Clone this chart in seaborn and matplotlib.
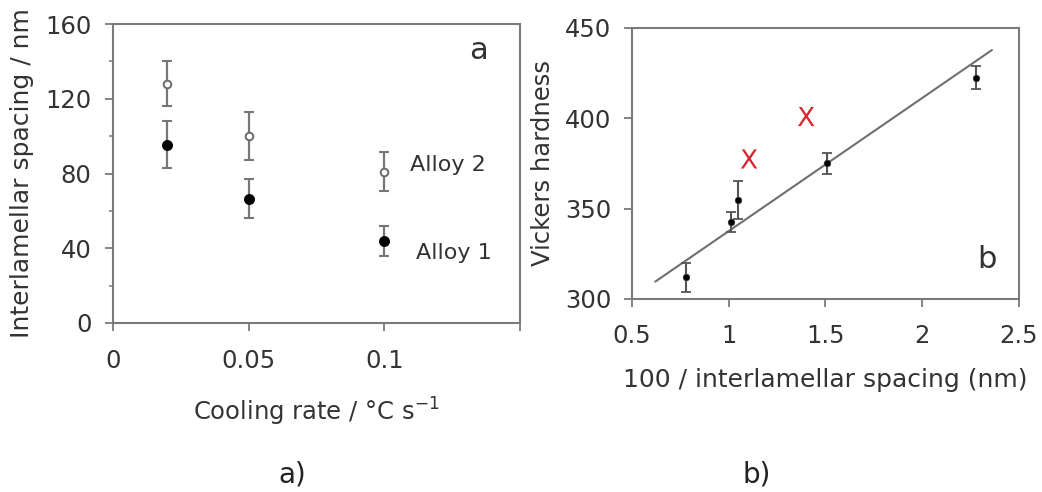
import numpy as np
import pandas as pd
import seaborn as sns
import matplotlib
matplotlib.use("Agg")
import matplotlib.pyplot as plt
from matplotlib.ticker import MultipleLocator, FixedLocator, FixedFormatter

# ---------------- data ----------------
# panel a
cooling_rate = [0.02, 0.05, 0.1]
alloy1_spacing = [95.5, 66.5, 44.0]
alloy1_err = [12.5, 10.5, 8.0]
alloy2_spacing = [128.0, 100.0, 81.0]
alloy2_err = [12.0, 13.0, 10.5]
a_xticks = [0, 0.05, 0.1, 0.15]
a_xticklabels = ["0", "0.05", "0.1", ""]
a_yticks = [0, 40, 80, 120, 160]

# panel b
inv_spacing = [0.78, 1.01, 1.05, 1.51, 2.28]
hardness = [312, 342.5, 355, 375, 422.5]
hardness_err = [8.0, 5.5, 10.5, 6.0, 6.5]
x_marks_x = [1.105, 1.40]
x_marks_y = [377.5, 401.0]
fit_x = [0.62, 2.36]
fit_y = [309.6, 437.8]
b_xticks = [0.5, 1, 1.5, 2, 2.5]
b_xticklabels = ["0.5", "1", "1.5", "2", "2.5"]
b_yticks = [300, 350, 400, 450]

# ---------------- style ----------------
sns.set_theme(style="white")
plt.rcParams["font.family"] = ["DejaVu Sans"]
spine_c = "#7a7a7a"
text_c = "#333333"
FS = 17.5
LFS = 18

fig = plt.figure(figsize=(10.42, 4.92), dpi=100)
W, H = 1042, 492


def ax_rect(x0, x1, y0, y1):
    return [x0 / W, 1 - y1 / H, (x1 - x0) / W, (y1 - y0) / H]


axa = fig.add_axes(ax_rect(113, 520, 24, 323))
axb = fig.add_axes(ax_rect(632, 1019, 28, 299))

for ax in (axa, axb):
    for s in ax.spines.values():
        s.set_color(spine_c)
        s.set_linewidth(1.5)
    ax.tick_params(which="major", direction="out", length=6, width=1.3,
                   color=spine_c, labelsize=FS, labelcolor=text_c,
                   bottom=True, left=True)
    ax.tick_params(which="minor", direction="out", length=3.2, width=1.1,
                   color=spine_c, left=True)
    ax.grid(False)

# ---------------- panel a ----------------
df_a = pd.DataFrame({
    "rate": cooling_rate * 2,
    "spacing": alloy1_spacing + alloy2_spacing,
    "err": alloy1_err + alloy2_err,
    "alloy": ["Alloy 1"] * 3 + ["Alloy 2"] * 3,
})
for alloy, face, edge, size in [("Alloy 2", "white", "#6a6a6a", 30),
                                ("Alloy 1", "black", "black", 42)]:
    sub = df_a[df_a["alloy"] == alloy]
    axa.errorbar(sub["rate"], sub["spacing"], yerr=sub["err"], fmt="none",
                 ecolor="#777777", elinewidth=1.6, capsize=3.4, capthick=1.5,
                 zorder=2)
    sns.scatterplot(x=sub["rate"], y=sub["spacing"], ax=axa, s=size,
                    marker="o", facecolor=face, edgecolor=edge, linewidth=1.4,
                    zorder=3, legend=False)

axa.set_xlim(0, 0.15)
axa.set_ylim(0, 160)
axa.xaxis.set_major_locator(FixedLocator(a_xticks))
axa.xaxis.set_major_formatter(FixedFormatter(a_xticklabels))
axa.yaxis.set_major_locator(FixedLocator(a_yticks))
axa.yaxis.set_minor_locator(MultipleLocator(20))
axa.tick_params(axis="x", which="major", pad=13)
axa.tick_params(axis="y", which="major", pad=9.5)
axa.set_xlabel(r"Cooling rate / °C s$^{-1}$", fontsize=FS, color=text_c,
               va="center")
axa.xaxis.set_label_coords(0.5, (323 - 412) / 299)
axa.set_ylabel("Interlamellar spacing / nm", fontsize=LFS, color=text_c,
               va="center")
axa.yaxis.set_label_coords((22 - 113) / 407, 0.5)

axa.text(0.1095, 84.5, "Alloy 2", fontsize=16, color=text_c, va="center",
         ha="left")
axa.text(0.1115, 37.5, "Alloy 1", fontsize=16, color=text_c, va="center",
         ha="left")
axa.text(0.897, 0.913, "a", transform=axa.transAxes, fontsize=22,
         color=text_c, ha="center", va="center")

# ---------------- panel b ----------------
df_b = pd.DataFrame({"x": inv_spacing, "hv": hardness, "err": hardness_err})
axb.errorbar(df_b["x"], df_b["hv"], yerr=df_b["err"], fmt="none",
             ecolor="#555555", elinewidth=1.5, capsize=3.3, capthick=1.3,
             zorder=2)
sns.scatterplot(data=df_b, x="x", y="hv", ax=axb, s=22, color="black",
                edgecolor="#333333", linewidth=0.5, zorder=3, legend=False)
sns.lineplot(x=fit_x, y=fit_y, ax=axb, color="#6f6f6f", linewidth=1.5,
             zorder=1)
sns.scatterplot(x=x_marks_x, y=x_marks_y, ax=axb, marker=r"$\mathsf{X}$",
                s=190, color="#d62630", edgecolor="none", zorder=4,
                legend=False)

axb.set_xlim(0.5, 2.5)
axb.set_ylim(300, 450)
axb.xaxis.set_major_locator(FixedLocator(b_xticks))
axb.xaxis.set_major_formatter(FixedFormatter(b_xticklabels))
axb.yaxis.set_major_locator(FixedLocator(b_yticks))
axb.tick_params(axis="x", which="major", pad=12)
axb.tick_params(axis="y", which="major", pad=9)
axb.set_xlabel("100 / interlamellar spacing (nm)", fontsize=LFS,
               color=text_c, va="center")
axb.xaxis.set_label_coords(0.5, (299 - 380) / 271)
axb.set_ylabel("Vickers hardness", fontsize=FS, color=text_c, va="center")
axb.yaxis.set_label_coords((543 - 632) / 387, 0.5)
axb.text(0.917, 0.144, "b", transform=axb.transAxes, fontsize=22,
         color=text_c, ha="center", va="center")

# ---------------- sub-captions ----------------
fig.text(292 / W, 1 - 474 / H, "a)", fontsize=20, color="#222222",
         ha="center", va="center")
fig.text(757 / W, 1 - 474 / H, "b)", fontsize=20, color="#222222",
         ha="center", va="center")

fig.savefig("out.png", dpi=100, facecolor="white")
